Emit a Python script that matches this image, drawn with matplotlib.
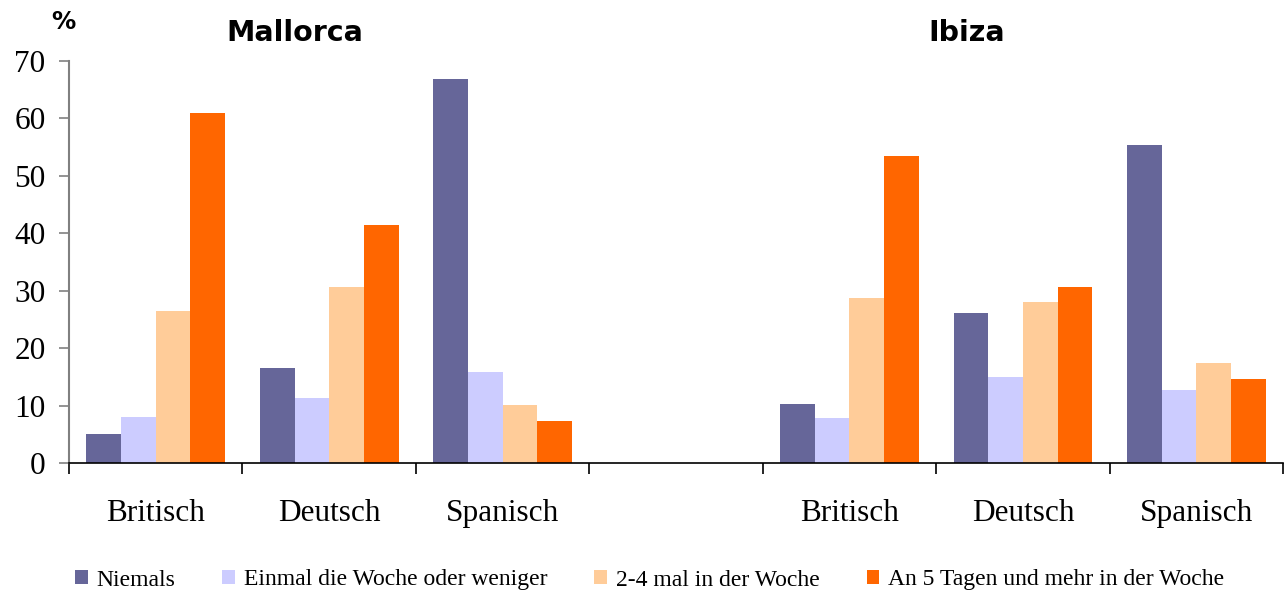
import matplotlib.pyplot as plt
import numpy as np

# Anteile in Prozent je Nationalität, Mallorca und Ibiza
regions = ["Mallorca", "Ibiza"]
nations = ["Britisch", "Deutsch", "Spanisch"]
series = ["Niemals", "Einmal die Woche oder weniger",
          "2-4 mal in der Woche", "An 5 Tagen und mehr in der Woche"]
colors = ["#666699", "#CCCCFF", "#FFCC99", "#FF6600"]

mallorca = [
    [5.0, 16.6, 66.8],   # Niemals
    [8.0, 11.3, 15.9],   # Einmal die Woche oder weniger
    [26.4, 30.7, 10.1],  # 2-4 mal in der Woche
    [60.9, 41.5, 7.3],   # An 5 Tagen und mehr
]
ibiza = [
    [10.3, 26.2, 55.3],
    [7.9, 15.0, 12.7],
    [28.8, 28.1, 17.5],
    [53.4, 30.7, 14.7],
]

serif = "Liberation Serif"
sans = "DejaVu Sans"

fig = plt.figure(figsize=(12.86, 5.95), dpi=100)
ax = fig.add_axes([0.0537, 0.2218, 0.9440, 0.6757])

# slots 0-2 Mallorca, 3 leer, 4-6 Ibiza
slots = np.array([0, 1, 2, 4, 5, 6]) + 0.5
w = 0.2
for i, name in enumerate(series):
    vals = mallorca[i] + ibiza[i]
    ax.bar(slots + (i - 1.5) * w, vals, width=w, color=colors[i],
           label=name, linewidth=0)

ax.set_xlim(0, 7)
ax.set_ylim(0, 70)
ax.set_yticks(range(0, 71, 10))
ax.set_xticks(range(0, 8))
ax.set_xticklabels([])
ax.set_xticks(slots, nations + nations, minor=True)
ax.tick_params(axis="x", which="major", length=8, width=1.2, color="black")
ax.tick_params(axis="x", which="minor", length=0, pad=26, labelsize=22.5)
ax.tick_params(axis="y", length=7, width=1.2, color="#808080", labelsize=22.5, pad=10)
for lab in ax.get_xticklabels(minor=True) + ax.get_yticklabels():
    lab.set_fontfamily(serif)

for s in ["top", "right"]:
    ax.spines[s].set_visible(False)
ax.spines["left"].set_color("#808080")
ax.spines["left"].set_linewidth(1.5)
ax.spines["bottom"].set_color("black")
ax.spines["bottom"].set_linewidth(1.2)

fig.text(295 / 1286, 1 - 33 / 595, regions[0], ha="center", va="center",
         fontsize=20.5, fontweight="bold", family=sans)
fig.text(967 / 1286, 1 - 33 / 595, regions[1], ha="center", va="center",
         fontsize=20.5, fontweight="bold", family=sans)
fig.text(63 / 1286, 1 - 22 / 595, "%", ha="center", va="center",
         fontsize=17.5, fontweight="bold", family=sans)

fig.legend(loc="center", bbox_to_anchor=(0.505, 1 - 580 / 595), ncol=4,
           frameon=False, prop={"family": serif, "size": 17},
           handlelength=0.55, handleheight=0.55, handletextpad=0.35,
           columnspacing=2.0)

fig.savefig("out.png", dpi=100)
